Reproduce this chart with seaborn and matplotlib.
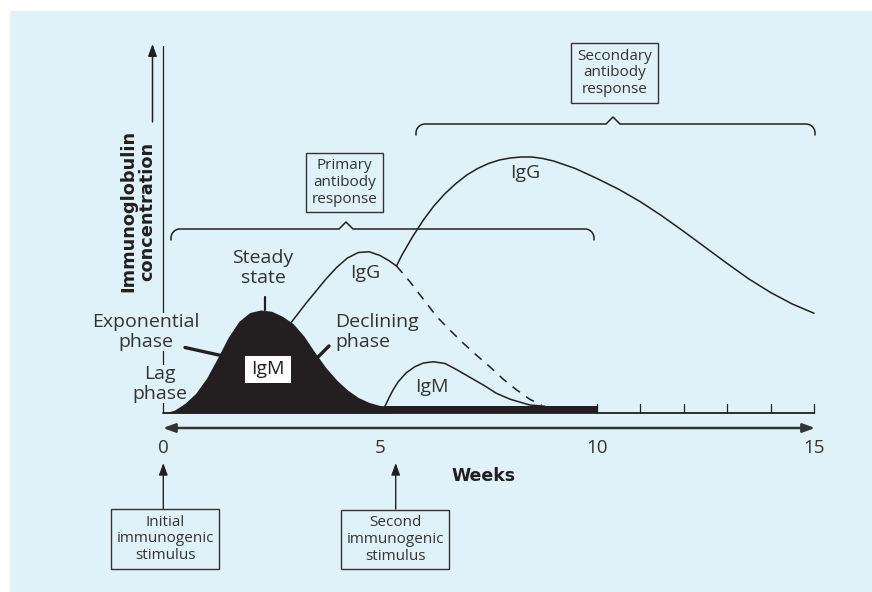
import numpy as np
import pandas as pd
import matplotlib
matplotlib.use("Agg")
import matplotlib.pyplot as plt
from matplotlib.patches import Rectangle
import seaborn as sns

# curves (weeks, concentration in arbitrary units)
igm1_weeks = [0, 0.25, 0.5, 0.75, 1.0, 1.25, 1.5, 1.75, 2.0, 2.25, 2.5, 2.75, 3.0,
              3.25, 3.5, 3.75, 4.0, 4.25, 4.5, 4.75, 5.0, 5.25]
igm1_conc = [0.0, 0.1, 0.38, 0.78, 1.38, 2.18, 3.02, 3.67, 4.02, 4.12, 4.07, 3.87, 3.57,
             3.07, 2.42, 1.82, 1.32, 0.92, 0.62, 0.42, 0.3, 0.27]

igg1_weeks = [2.94, 3.1, 3.3, 3.5, 3.75, 4.0, 4.25, 4.5, 4.75, 5.0, 5.2, 5.38]
igg1_conc = [3.59, 3.95, 4.4, 4.82, 5.35, 5.82, 6.2, 6.42, 6.45, 6.3, 6.1, 5.88]

igg1_tail_weeks = [5.38, 5.69, 6.0, 6.31, 6.62, 6.92, 7.23, 7.53, 7.84, 8.15, 8.45, 8.72]
igg1_tail_conc = [5.88, 5.25, 4.55, 3.85, 3.3, 2.79, 2.3, 1.85, 1.35, 0.92, 0.55, 0.32]

igg2_weeks = [5.38, 5.5, 5.75, 6.0, 6.25, 6.5, 6.75, 7.0, 7.25, 7.5, 7.75, 8.0, 8.25, 8.5,
              8.75, 9.0, 9.5, 10.0, 10.5, 11.0, 11.5, 12.0, 12.5, 13.0, 13.5, 14.0, 14.5, 15.0]
igg2_conc = [5.88, 6.3, 7.05, 7.72, 8.3, 8.78, 9.18, 9.52, 9.78, 9.98, 10.12, 10.2, 10.24, 10.24,
             10.18, 10.08, 9.78, 9.38, 8.95, 8.45, 7.88, 7.26, 6.62, 5.98, 5.36, 4.82, 4.36, 3.99]

igm2_weeks = [5.11, 5.2, 5.3, 5.42, 5.6, 5.8, 6.0, 6.23, 6.5, 6.75, 7.07, 7.4, 7.68, 8.0, 8.45, 8.8]
igm2_conc = [0.25, 0.58, 0.92, 1.25, 1.6, 1.85, 2.0, 2.05, 1.98, 1.75, 1.43, 1.1, 0.79, 0.55, 0.32, 0.27]

bar_weeks = [5.1, 10.0]
bar_level = [0.27, 0.27]

tick_weeks = [0, 5, 10, 15]
minor_weeks = [10, 11, 12, 13, 14, 15]

BG = "#dff2fa"
INK = "#231f20"
TXT = "#333333"

sns.set_theme(style="white")
plt.rcParams["font.family"] = ["Open Sans", "DejaVu Sans"]

fig = plt.figure(figsize=(8.72, 5.92), dpi=100)
fig.patch.set_facecolor("white")
bg_ax = fig.add_axes([10 / 872, 0, 1 - 10 / 872, 1 - 11 / 592])
bg_ax.set_facecolor(BG)
bg_ax.axis("off")
bg_ax.add_patch(Rectangle((0, 0), 1, 1, transform=bg_ax.transAxes, facecolor=BG, edgecolor="none"))

ax = fig.add_axes([0, 0, 1, 1])
ax.set_facecolor("none")
ax.set_xlim(-163 / 43.4, (872 - 163) / 43.4)
ax.set_ylim((413 - 592) / 25, 413 / 25)
ax.axis("off")


# pixel positions of the layout -> data units
def wx(px):
    return (px - 163) / 43.4


def cy(py):
    return (413 - py) / 25


# axes lines
ax.plot([0, 0], [0, cy(46)], color=INK, lw=0.9, zorder=1)
ax.plot([0, 15], [0, 0], color=INK, lw=1.3, zorder=4)
for w in minor_weeks:
    ax.plot([w, w], [0, cy(404)], color=INK, lw=0.9, zorder=4)
ax.annotate("", xy=(wx(152.5), cy(44)), xytext=(wx(152.5), cy(122)),
            arrowprops=dict(arrowstyle="-|>,head_length=0.6,head_width=0.22", color=INK, lw=1.1,
                            shrinkA=0, shrinkB=0))
ax.annotate("", xy=(wx(815), cy(428)), xytext=(wx(163), cy(428)),
            arrowprops=dict(arrowstyle="<|-|>,head_length=0.6,head_width=0.22", color="#333", lw=1.8,
                            shrinkA=0, shrinkB=0))

# curves
ax.fill_between(igm1_weeks, 0, igm1_conc, color=INK, lw=0, zorder=3)
ax.fill_between(bar_weeks, 0, bar_level, color=INK, lw=0, zorder=3)
sns.lineplot(x=igg1_weeks, y=igg1_conc, ax=ax, color=INK, lw=1.1, sort=False, zorder=3)
sns.lineplot(x=igg1_tail_weeks, y=igg1_tail_conc, ax=ax, color=INK, lw=1.1, sort=False,
             linestyle=(0, (6, 5)), zorder=3)
sns.lineplot(x=igg2_weeks, y=igg2_conc, ax=ax, color=INK, lw=1.1, sort=False, zorder=3)
sns.lineplot(x=igm2_weeks, y=igm2_conc, ax=ax, color=INK, lw=1.1, sort=False, zorder=3)


# curly brackets
def bracket(x0, x1, xm, yh, drop=11, r=9, tip=7):
    t = np.linspace(0, np.pi / 2, 12)
    px = list(x0 + r - r * np.cos(t)) + [xm - tip, xm, xm + tip] + list(x1 - r + r * np.sin(t))
    py = list(yh + r - r * np.sin(t)) + [yh, yh - tip, yh] + list(yh + r - r * np.cos(t))
    px = [x0] + px + [x1]
    py = [yh + drop] + py + [yh + drop]
    ax.plot([wx(p) for p in px], [cy(p) for p in py], color=INK, lw=1.1, zorder=3)


bracket(171, 594, 346, 229)
bracket(416, 815, 613, 124)


def box(x0, y0, x1, y1, text, size=11, face="none", lw=1.0, color=TXT):
    ax.add_patch(Rectangle((wx(x0), cy(y1)), wx(x1) - wx(x0), cy(y0) - cy(y1),
                           facecolor=face, edgecolor="#333" if face == "none" else "none",
                           lw=lw, zorder=5))
    ax.text(wx((x0 + x1) / 2), cy((y0 + y1) / 2), text, ha="center", va="center",
            fontsize=size, color=color, linespacing=1.18, zorder=6)


box(306, 153, 383, 212, "Primary\nantibody\nresponse")
box(571, 43, 658, 103, "Secondary\nantibody\nresponse")
box(111, 509, 219, 569, "Initial\nimmunogenic\nstimulus")
box(341, 510, 449, 569, "Second\nimmunogenic\nstimulus")
box(245, 356, 291, 383, "IgM", size=14, face="white", color=INK)

# stimulus arrows
for x in [163.3, 395.7]:
    ax.annotate("", xy=(wx(x), cy(463)), xytext=(wx(x), cy(509)),
                arrowprops=dict(arrowstyle="-|>,head_length=0.6,head_width=0.22", color=INK, lw=1.0,
                                shrinkA=0, shrinkB=0))

# labels
lab = dict(fontsize=14, color=TXT, linespacing=1.15, zorder=2)
ax.text(wx(263), cy(268), "Steady\nstate", ha="center", va="center", **lab)
ax.text(wx(146), cy(332), "Exponential\nphase", ha="center", va="center",
        bbox=dict(facecolor=BG, edgecolor="none", pad=0.3), **lab)
ax.text(wx(160), cy(384), "Lag\nphase", ha="center", va="center",
        bbox=dict(facecolor=BG, edgecolor="none", pad=0.3), **lab)
ax.text(wx(335), cy(332), "Declining\nphase", ha="left", va="center", **lab)
ax.text(wx(365), cy(273), "IgG", ha="center", va="center", **lab)
ax.text(wx(432), cy(387), "IgM", ha="center", va="center", **lab)
ax.text(wx(525), cy(173), "IgG", ha="center", va="center", **lab)

# pointer lines
ax.plot([wx(264.5), wx(264.5)], [cy(297), cy(310)], color=INK, lw=1.6, zorder=3)
ax.plot([wx(185), wx(221)], [cy(347.5), cy(355.5)], color=INK, lw=2.4, zorder=3)
ax.plot([wx(329), wx(316)], [cy(346), cy(359)], color=INK, lw=2.4, zorder=3)

# tick labels and axis titles
for w in tick_weeks:
    ax.text(w, cy(448), str(w), ha="center", va="center", fontsize=13.5, color=TXT)
ax.text(wx(484), cy(476), "Weeks", ha="center", va="center", fontsize=12.5,
        fontweight="bold", color=INK, family="DejaVu Sans")
ax.text(wx(138), cy(211), "Immunoglobulin\nconcentration", ha="center", va="center",
        rotation=90, fontsize=12.8, fontweight="bold", color=INK, linespacing=1.05,
        family="DejaVu Sans")

fig.savefig("out.png", dpi=100, facecolor="white")
